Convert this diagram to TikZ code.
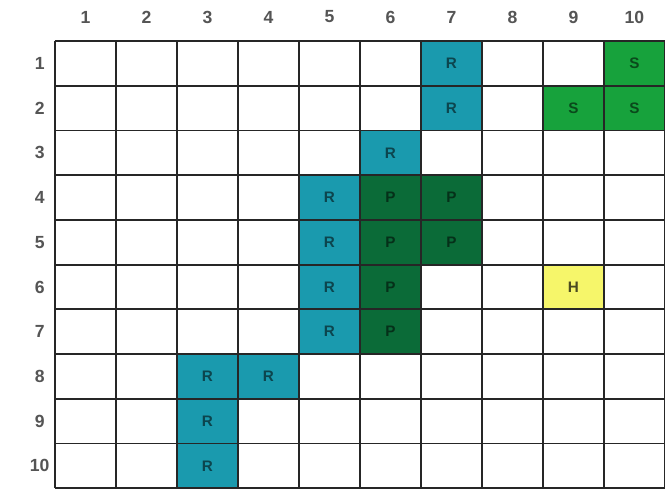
\documentclass[tikz,border=0pt]{standalone}
\usepackage{fontspec}
\setmainfont{Liberation Sans}
\definecolor{paper}{HTML}{FFFFFF}
\definecolor{ink}{HTML}{262626}
\definecolor{numgray}{HTML}{555555}
\definecolor{road}{HTML}{1A9AAE}
\definecolor{park}{HTML}{0B6B38}
\definecolor{shop}{HTML}{17A23C}
\definecolor{home}{HTML}{F6F66A}

\begin{document}
\begin{tikzpicture}[
  x=1.83cm, y=1.341cm,
  cell/.style={minimum width=1.83cm, minimum height=1.341cm, inner sep=0pt, font=\fontsize{13}{15}\selectfont\bfseries},
  rcell/.style={cell, fill=road, text=road!45!black},
  pcell/.style={cell, fill=park, text=park!45!black},
  scell/.style={cell, fill=shop, text=shop!45!black},
  hcell/.style={cell, fill=home, text=home!30!black},
  num/.style={text=numgray, font=\fontsize{15}{18}\selectfont\bfseries},
]
\useasboundingbox (-0.9,0) rectangle (10,10.92);
\fill[paper] (-0.9,0) rectangle (10,10.92);

% column and row numbers
\foreach \i in {1,...,10} {
  \node[num] (col\i) at (\i-0.5,10.54) {\i};
  \node[num] (row\i) at (-0.25,10.5-\i) {\i};
}

% coloured cells
\node[rcell] (r1c7) at (6.5,9.5) {R};
\node[scell] (r1c10) at (9.5,9.5) {S};
\node[rcell] (r2c7) at (6.5,8.5) {R};
\node[scell] (r2c9) at (8.5,8.5) {S};
\node[scell] (r2c10) at (9.5,8.5) {S};
\node[rcell] (r3c6) at (5.5,7.5) {R};
\node[rcell] (r4c5) at (4.5,6.5) {R};
\node[pcell] (r4c6) at (5.5,6.5) {P};
\node[pcell] (r4c7) at (6.5,6.5) {P};
\node[rcell] (r5c5) at (4.5,5.5) {R};
\node[pcell] (r5c6) at (5.5,5.5) {P};
\node[pcell] (r5c7) at (6.5,5.5) {P};
\node[rcell] (r6c5) at (4.5,4.5) {R};
\node[pcell] (r6c6) at (5.5,4.5) {P};
\node[hcell] (r6c9) at (8.5,4.5) {H};
\node[rcell] (r7c5) at (4.5,3.5) {R};
\node[pcell] (r7c6) at (5.5,3.5) {P};
\node[rcell] (r8c3) at (2.5,2.5) {R};
\node[rcell] (r8c4) at (3.5,2.5) {R};
\node[rcell] (r9c3) at (2.5,1.5) {R};
\node[rcell] (r10c3) at (2.5,0.5) {R};

% grid lines
\draw[ink, line width=1.6pt, xstep=1.83cm, ystep=1.341cm] (0,0) grid (10,10);

\end{tikzpicture}
\end{document}
